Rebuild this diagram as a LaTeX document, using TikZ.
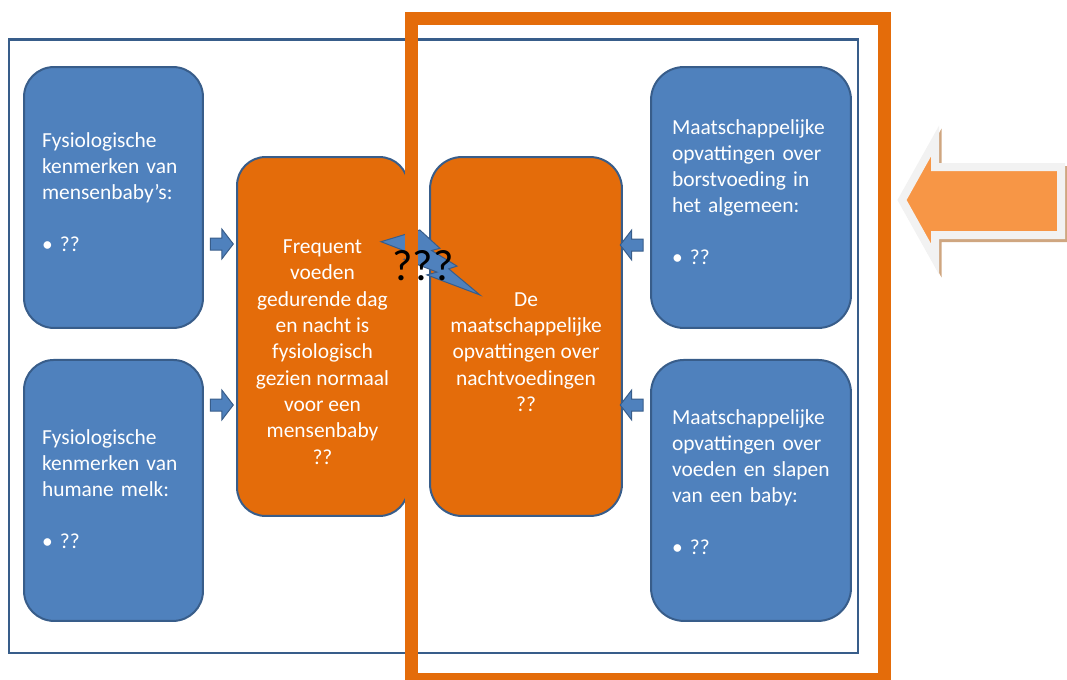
\documentclass[tikz,border=0pt]{standalone}
\usepackage{fontspec}
\setmainfont{Carlito}
\usepackage{tikz}
\usetikzlibrary{positioning,shapes.arrows}
\definecolor{kaderBlauw}{RGB}{56,93,138}
\definecolor{vakBlauw}{RGB}{79,129,189}
\definecolor{vakOranje}{RGB}{228,108,10}
\definecolor{pijlOranje}{RGB}{247,150,70}
\definecolor{randGrijs}{RGB}{242,242,242}
\definecolor{pijlSchaduw}{RGB}{207,166,128}

\begin{document}
\begin{tikzpicture}[
  x=0.02cm, y=-0.02cm,
  font=\fontsize{12.2}{14.8}\selectfont,
  blauwvak/.style={draw=kaderBlauw, line width=0.04cm, fill=vakBlauw, rounded corners=0.6cm,
                   text=white, align=left, inner xsep=0.36cm, text width=2.86cm,
                   minimum width=3.58cm, minimum height=5.22cm},
  maatvak/.style={inner xsep=0.42cm, text width=3.16cm, minimum width=4cm, rounded corners=0.66cm},
  oranjevak/.style={draw=kaderBlauw, line width=0.04cm, fill=vakOranje, minimum height=7.18cm},
  oranjetekst/.style={text=white, align=center, font=\fontsize{12.2}{15}\selectfont},
  kleinepijl/.style={single arrow, draw=kaderBlauw, fill=vakBlauw, line width=0.02cm,
                     minimum height=0.46cm, inner xsep=0pt, inner ysep=0.11cm,
                     single arrow head extend=0.18cm, single arrow tip angle=105},
  bliksem/.style={draw=kaderBlauw, line width=0.02cm, fill=vakBlauw},
  blauwkader/.style={draw=kaderBlauw, line width=0.05cm},
  oranjekader/.style={draw=vakOranje, line width=0.26cm}
]
\useasboundingbox (0,0) rectangle (1067,679);

% Kader rond het geheel
\draw[blauwkader] (9,39.5) rectangle (858,653);

% Kolom links: fysiologie
\node[blauwvak] (fysBaby) at (113.5,197.5) {Fysiologische\\kenmerken van\\mensenbaby’s:\\[14.8pt]• ??\rule[-6pt]{0pt}{6pt}};
\node[blauwvak, below=0.6cm of fysBaby] (fysMelk) {Fysiologische\\kenmerken van\\humane melk:\\[14.8pt]• ??\rule[-2pt]{0pt}{2pt}};

% Midden: de twee oranje vakken
\node[oranjevak, minimum width=3.42cm, rounded corners=0.57cm] (fysNormaal) at (322.5,336.5) {};
\node[oranjetekst] (fysNormaalTekst) at (322.5,352) {Frequent\\voeden\\gedurende dag\\en nacht is\\fysiologisch\\gezien normaal\\voor een\\mensenbaby\\??};
\node[oranjevak, minimum width=3.84cm, rounded corners=0.64cm] (maatNacht) at (526,336.5) {};
\node[oranjetekst] (maatNachtTekst) at (526,352) {De\\maatschappelijke\\opvattingen over\\nachtvoedingen\\??};

% Kolom rechts: maatschappij
\node[blauwvak, maatvak] (maatBorst) at (751,197.5) {Maatschappelijke\\opvattingen over\\borstvoeding in\\het algemeen:\\[14.8pt]• ??\rule[-6pt]{0pt}{6pt}};
\node[blauwvak, maatvak, below=0.6cm of maatBorst] (maatSlapen) {Maatschappelijke\\opvattingen over\\voeden en slapen\\van een baby:\\[14.8pt]• ??\rule[-10pt]{0pt}{10pt}};

% Kleine pijlen
\node[kleinepijl] (pijlBaby) at (219.5,244) {};
\node[kleinepijl] (pijlMelk) at (219.5,405) {};
\node[kleinepijl, shape border rotate=180] (pijlBorst) at (634,245) {};
\node[kleinepijl, shape border rotate=180] (pijlSlapen) at (634,405) {};

% Bliksem tussen de oranje vakken
\draw[bliksem] (419.8,230) -- (439.9,248.3) -- (431.6,250.5) -- (457,266.1) -- (448.7,268.8)
  -- (480,295) -- (426.9,274.9) -- (437,272.1) -- (404,259.2) -- (415.8,255.2) -- (381,241.7) -- cycle;

% Oranje kader
\draw[oranjekader] (411.5,18.5) rectangle (884.5,679.5);
\node[font=\fontsize{25}{30}\selectfont, anchor=base] (vraagtekens) at (423,280) {???};

% Grote pijl rechts
\begin{scope}[shift={(2.5,3)}]
\draw[draw=pijlSchaduw, fill=pijlSchaduw, line width=0.16cm] (902,200) -- (935,141) -- (935,167) -- (1061,167)
  -- (1061,235) -- (935,235) -- (935,259) -- cycle;
\end{scope}
\draw[draw=randGrijs, fill=pijlOranje, line width=0.16cm] (902,200) -- (935,141) -- (935,167) -- (1061,167)
  -- (1061,235) -- (935,235) -- (935,259) -- cycle;

\end{tikzpicture}
\end{document}
